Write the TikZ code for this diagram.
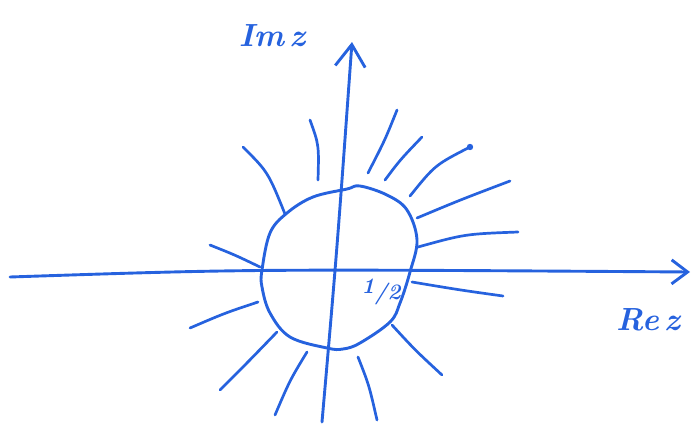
\documentclass[tikz,border=0pt]{standalone}
\usepackage{tikz}
\usetikzlibrary{arrows.meta}
\definecolor{marker}{RGB}{38,98,222}
\tikzset{
  pen/.style={draw=marker, line width=2.9pt, line cap=round, line join=round},
  ray/.style={pen, line width=2.7pt},
  lbl/.style={text=marker, font=\bfseries\itshape\fontsize{32}{34}\selectfont, inner sep=0pt},
}
\begin{document}
\begin{tikzpicture}[x=1pt, y=-1pt]
  \useasboundingbox (0,0) rectangle (699,426);
  % axes (picture in pixel units, y downwards)
  \coordinate (xl) at (10,277);
  \coordinate (xr) at (690,272);
  \coordinate (yb) at (322,422);
  \coordinate (yt) at (352,42);
  \draw[pen, -{Straight Barb[length=16pt,width=24pt]}] (xl) .. controls (250,269) .. (xr);
  \draw[pen, -{Straight Barb[length=22pt,width=30pt]}] (yb) .. controls (337,250) .. (yt);
  % the circle |z| = 1/2, drawn by hand
  \draw[pen] plot[smooth cycle, tension=0.6] coordinates {
    (262,270) (270,233) (287,213) (313,197) (347,189) (360,186)
    (387,195) (407,210) (417,240) (410,272) (400,303) (390,322)
    (360,343) (343,349) (327,348) (290,337) (270,313) (262,287)};
  % field lines outside the circle
  \foreach \ax/\ay/\bx/\by/\cx/\cy in {
      243/147/268/172/285/214, 310/120/319/145/318/180,
      397/110/385/140/368/173, 422/137/400/160/385/180,
      470/147/435/165/410/196, 510/181/460/200/417/218,
      518/232/465/234/418/247, 412/282/460/290/503/296,
      392/325/415/350/442/375, 358/357/369/385/377/420,
      307/352/290/380/275/415, 277/332/248/362/220/390,
      258/302/225/313/190/328, 210/245/235/255/260/267} {
    \draw[ray] (\ax,\ay) .. controls (\bx,\by) .. (\cx,\cy);
  }
  \fill[marker] (470,147) circle (3.2pt);
  % labels
  \node[lbl] (im) at (272,36) {Im\,z};
  \node[lbl] (re) at (648,320) {Re\,z};
  \node[lbl, font=\bfseries\itshape\fontsize{22}{24}\selectfont] (half) at (381,292) {\raisebox{6pt}{1}/2};
\end{tikzpicture}
\end{document}
